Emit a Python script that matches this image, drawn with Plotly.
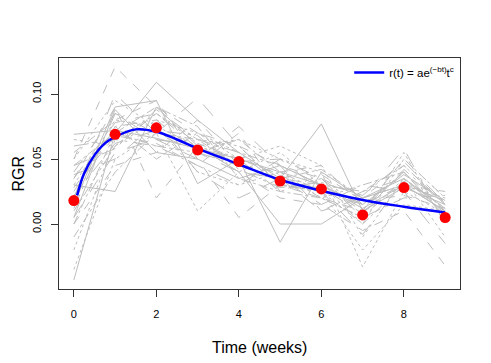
import plotly.graph_objects as go

# weeks at which RGR was measured
weeks = [0, 1, 2, 3, 4, 5, 6, 7, 8, 9]

# RGR of each individual plant (one row per plant, values at weeks 0..9)
plant_rgr = [
    [0.069, 0.072, 0.066, 0.058, 0.050, 0.040, 0.030, 0.012, 0.030, 0.010],
    [0.050, 0.121, 0.090, 0.070, 0.060, 0.045, 0.035, 0.020, 0.045, 0.015],
    [0.030, 0.080, 0.075, 0.060, 0.065, 0.050, 0.040, -0.033, 0.025, 0.008],
    [0.010, 0.060, 0.085, 0.062, 0.050, 0.038, 0.020, 0.005, 0.035, 0.012],
    [0.040, 0.085, 0.070, 0.097, 0.060, 0.030, 0.025, 0.015, 0.040, 0.005],
    [0.020, 0.075, 0.080, 0.055, 0.045, 0.035, 0.030, 0.010, 0.030, 0.018],
    [-0.043, 0.070, 0.109, 0.080, 0.055, 0.035, 0.077, 0.010, 0.028, 0.015],
    [0.035, 0.090, 0.020, 0.060, 0.040, 0.020, 0.015, -0.005, 0.010, -0.032],
    [-0.035, 0.050, 0.070, 0.010, 0.040, 0.055, 0.030, 0.000, 0.050, 0.020],
    [0.045, 0.070, 0.090, 0.075, 0.035, 0.025, 0.020, 0.030, 0.040, 0.010],
    [0.005, 0.055, 0.065, 0.050, 0.075, 0.045, 0.010, 0.020, 0.058, 0.000],
    [0.060, 0.065, 0.060, 0.045, 0.030, 0.050, 0.035, 0.005, 0.020, 0.022],
    [0.015, 0.090, 0.095, 0.031, 0.050, -0.014, 0.040, 0.020, 0.035, 0.012],
    [0.000, 0.045, 0.055, 0.080, 0.045, 0.040, 0.045, 0.015, 0.030, 0.025],
    [-0.020, 0.065, 0.085, 0.065, 0.060, 0.030, 0.025, -0.020, 0.015, 0.010],
    [0.025, 0.075, 0.050, 0.070, 0.055, 0.045, 0.030, 0.025, 0.045, 0.015],
    [0.038, 0.050, 0.078, 0.040, 0.020, 0.035, 0.015, 0.030, 0.025, -0.015],
    [0.012, 0.085, 0.065, 0.060, 0.050, 0.025, 0.035, 0.012, 0.040, 0.005],
    [0.030, 0.025, 0.090, 0.060, 0.040, 0.000, 0.000, 0.020, 0.030, 0.010],
    [0.055, 0.080, 0.095, 0.050, 0.005, 0.030, 0.020, 0.010, 0.050, 0.020],
    [0.065, 0.060, 0.080, 0.070, 0.050, 0.060, 0.045, -0.010, 0.035, -0.010],
    [0.000, 0.070, 0.060, 0.055, 0.065, 0.040, 0.025, 0.000, 0.030, 0.018],
    [0.020, 0.100, 0.070, 0.055, 0.040, 0.035, 0.010, 0.025, 0.035, 0.008],
    [0.045, 0.058, 0.088, 0.065, 0.055, 0.030, 0.028, 0.008, 0.042, 0.015],
    [0.005, 0.088, 0.055, 0.050, 0.035, 0.045, 0.030, 0.015, 0.038, 0.018],
    [0.028, 0.068, 0.062, 0.045, 0.070, 0.025, 0.038, 0.018, 0.022, 0.012],
    [0.050, 0.095, 0.075, 0.040, 0.030, 0.040, 0.020, 0.005, 0.055, 0.000],
    [-0.010, 0.040, 0.070, 0.065, 0.045, 0.035, 0.042, 0.020, 0.030, 0.020],
    [0.035, 0.078, 0.085, 0.058, 0.048, 0.050, 0.025, -0.008, 0.033, 0.010],
    [0.022, 0.062, 0.072, 0.068, 0.042, 0.028, 0.032, 0.022, 0.048, 0.016],
]

# mean RGR per week (red points)
mean_rgr = [0.018, 0.069, 0.074, 0.057, 0.048, 0.033, 0.027, 0.007, 0.028, 0.005]

# fitted curve r(t) = a*exp(-b*t)*t^c
curve_t = [0.08, 0.25, 0.5, 0.75, 1, 1.5, 2, 2.5, 3, 4, 5, 6, 7, 8, 9]
curve_r = [0.022, 0.039, 0.053, 0.062, 0.067, 0.0728, 0.071, 0.065, 0.058,
           0.046, 0.034, 0.0256, 0.0185, 0.0133, 0.0088]

# R's lty 1..6
dashes = ["solid", "dash", "dot", "dashdot", "longdash", "longdashdot"]

fig = go.Figure()
for i, row in enumerate(plant_rgr):
    fig.add_trace(go.Scatter(x=weeks, y=row, mode="lines",
                             line=dict(color="#BEBEBE", width=1, dash=dashes[i % 6]),
                             showlegend=False, hoverinfo="skip"))

fig.add_trace(go.Scatter(x=curve_t, y=curve_r, mode="lines", line_shape="spline",
                         line=dict(color="#0000FF", width=2.5),
                         name="r(t) = ae<sup>(\u2212bt)</sup>t<sup>c</sup>"))
fig.add_trace(go.Scatter(x=weeks, y=mean_rgr, mode="markers",
                         marker=dict(color="#FF0000", size=11),
                         showlegend=False))

axis_font = dict(family="Liberation Sans, Arial, sans-serif", size=11, color="black")
fig.update_xaxes(range=[-0.36, 9.36], tickvals=[0, 2, 4, 6, 8], showgrid=False,
                 zeroline=False, showline=True, mirror=True, linecolor="#333",
                 linewidth=1, ticks="outside", ticklen=7, tickcolor="#333",
                 tickfont=axis_font, ticklabelstandoff=8, automargin=False)
fig.update_yaxes(range=[-0.05, 0.1277], tickvals=[0.0, 0.05, 0.10], tickformat=".2f",
                 showgrid=False, zeroline=False, showline=True, mirror=True,
                 linecolor="#333", linewidth=1, ticks="outside", ticklen=7,
                 tickcolor="#333", tickangle=-90, tickfont=axis_font,
                 ticklabelstandoff=6, automargin=False)

# axis titles placed like R's mtext lines
fig.add_annotation(text="Time (weeks)", xref="paper", yref="paper", x=0.5, y=-0.255,
                   xanchor="center", yanchor="middle", showarrow=False,
                   font=dict(size=16, color="black"))
fig.add_annotation(text="RGR", xref="paper", yref="paper", x=-0.102, y=0.5,
                   xanchor="center", yanchor="middle", showarrow=False, textangle=-90,
                   font=dict(size=16, color="black"))

# the page body keeps its default 8px margin, so the figure is 8px smaller
fig.update_layout(
    width=483, height=355,
    margin=dict(l=51, r=31, t=50, b=74),
    plot_bgcolor="white", paper_bgcolor="white",
    font=dict(family="Liberation Sans, Arial, sans-serif", color="black"),
    legend=dict(x=0.998, y=1.0, xanchor="right", yanchor="top",
                bgcolor="rgba(0,0,0,0)", font=dict(size=11.5)),
)

fig.write_html("out.html")
